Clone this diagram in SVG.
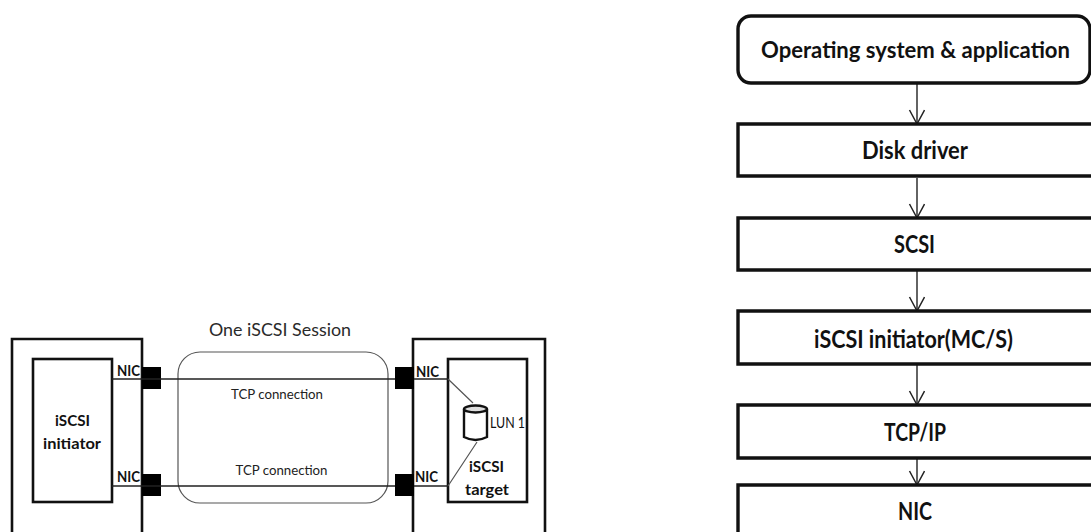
<svg xmlns="http://www.w3.org/2000/svg" width="1091" height="532" viewBox="0 0 1091 532">
<defs>
<marker id="arr" markerUnits="userSpaceOnUse" markerWidth="18" markerHeight="18" refX="15" refY="8" orient="auto"><path d="M1 0.500 L15 8 L1 15.500" fill="none" stroke="#222" stroke-width="1.500"/></marker>
</defs>
<style>
text{font-family:Lato,"Liberation Sans",sans-serif;fill:#111;text-anchor:middle}
.box{fill:#fff;stroke:#111;stroke-width:2.600}
.thick{fill:#fff;stroke:#111;stroke-width:3.400}
.line{fill:none;stroke:#222;stroke-width:1.400}
.gray{fill:none;stroke:#555;stroke-width:1.200}
.nic{fill:#000}
.st{font-size:24px;font-weight:700}
.lab{font-size:16px;font-weight:700}
.tcp{font-size:13.500px;fill:#222}
</style>
<g id="initiator-host"><path class="box" d="M12 532V339H142V532"/></g>
<g id="target-host"><path class="box" d="M413 532V339H545V532"/></g>
<g id="session"><rect x="178" y="352" width="210" height="151" rx="22" fill="none" stroke="#555" stroke-width="1.200"/><text x="280" y="336" font-size="17" style="fill:#2a2a2a" textLength="142" lengthAdjust="spacingAndGlyphs">One iSCSI Session</text></g>
<g id="initiator"><rect class="box" x="33" y="359" width="79" height="143"/><text class="lab" x="72.500" y="426" textLength="35" lengthAdjust="spacingAndGlyphs">iSCSI</text><text class="lab" x="72" y="449" textLength="58" lengthAdjust="spacingAndGlyphs">initiator</text></g>
<g id="target"><rect class="box" x="448" y="359" width="79" height="143"/><text class="lab" x="486.500" y="472" textLength="35" lengthAdjust="spacingAndGlyphs">iSCSI</text><text class="lab" x="487" y="495" textLength="44" lengthAdjust="spacingAndGlyphs">target</text></g>
<g id="nic-l1"><rect class="nic" x="142" y="367" width="19" height="22"/><text class="lab" x="128.500" y="376" textLength="23" lengthAdjust="spacingAndGlyphs">NIC</text></g>
<g id="nic-l2"><rect class="nic" x="142" y="474" width="19" height="22"/><text class="lab" x="128.500" y="482" textLength="23" lengthAdjust="spacingAndGlyphs">NIC</text></g>
<g id="nic-r1"><rect class="nic" x="395" y="367" width="19" height="22"/><text class="lab" x="427.500" y="377" textLength="23" lengthAdjust="spacingAndGlyphs">NIC</text></g>
<g id="nic-r2"><rect class="nic" x="395" y="474" width="19" height="22"/><text class="lab" x="426.500" y="482" textLength="23" lengthAdjust="spacingAndGlyphs">NIC</text></g>
<g id="lun"><path d="M464 409 V437 Q475.500 443 487 437 V409" fill="#fff" stroke="#111" stroke-width="2.400"/><ellipse cx="475.500" cy="409" rx="11.500" ry="3.500" fill="#ddd" stroke="#111" stroke-width="2.400"/><text x="507.500" y="428" font-size="15" textLength="35" lengthAdjust="spacingAndGlyphs">LUN 1</text></g>
<g id="connectors">
<path class="line" d="M112 379H395M112 486H395M414 379H448M414 486H448"/>
<path class="gray" d="M448 379L473 403M448 486L477 442"/>
<path class="line" marker-end="url(#arr)" d="M917 84V124"/>
<path class="line" marker-end="url(#arr)" d="M917 178V218"/>
<path class="line" marker-end="url(#arr)" d="M917 271V311"/>
<path class="line" marker-end="url(#arr)" d="M917 365V405"/>
<path class="line" marker-end="url(#arr)" d="M917 459V485"/>
<text class="tcp" x="277" y="399" textLength="92" lengthAdjust="spacingAndGlyphs">TCP connection</text>
<text class="tcp" x="281.500" y="475" textLength="92" lengthAdjust="spacingAndGlyphs">TCP connection</text>
</g>
<g id="s1"><rect class="thick" x="738" y="16" width="352" height="67" rx="13"/><text class="st" style="font-size:23px" x="915.500" y="58" textLength="309" lengthAdjust="spacingAndGlyphs">Operating system &amp; application</text></g>
<g id="s2"><path class="thick" d="M1091 124H738V176H1091"/><text class="st" x="915" y="159" textLength="106" lengthAdjust="spacingAndGlyphs">Disk driver</text></g>
<g id="s3"><path class="thick" d="M1091 218H738V270H1091"/><text class="st" x="914.500" y="253" textLength="41" lengthAdjust="spacingAndGlyphs">SCSI</text></g>
<g id="s4"><path class="thick" d="M1091 311H738V364H1091"/><text class="st" x="913.500" y="348" textLength="199" lengthAdjust="spacingAndGlyphs">iSCSI initiator(MC/S)</text></g>
<g id="s5"><path class="thick" d="M1091 405H738V458H1091"/><text class="st" x="915" y="441" textLength="62" lengthAdjust="spacingAndGlyphs">TCP/IP</text></g>
<g id="s6"><path class="thick" d="M738 532V485H1091"/><text class="st" x="915" y="520" textLength="34" lengthAdjust="spacingAndGlyphs">NIC</text></g>
</svg>
